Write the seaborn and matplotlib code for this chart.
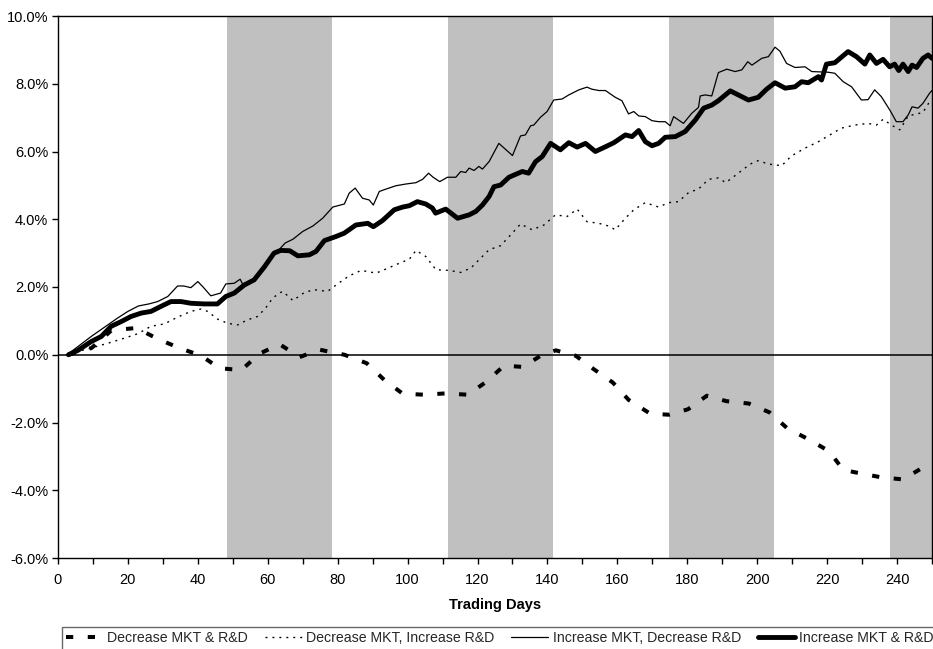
import matplotlib
matplotlib.use("Agg")
import matplotlib.pyplot as plt
import matplotlib.ticker as mticker
import seaborn as sns
import pandas as pd

# ---------------- data (cumulative returns, %) ----------------
series_names = [
    "Decrease MKT & R&D",
    "Decrease MKT, Increase R&D",
    "Increase MKT, Decrease R&D",
    "Increase MKT & R&D",
]

dec_both_days = [3, 9.6, 15.3, 22.4, 28.7, 34.7, 41, 46.2, 52.5, 57.6, 63.4, 69.1, 74.8, 81.9,
                 88.3, 93.3, 98.6, 104.9, 110.9, 117.2, 122.5, 127.6, 133, 138.2, 142.4, 148.1,
                 153.3, 158.7, 163.2, 169.4, 174.8, 180.2, 185.6, 191.2, 197.6, 203.5, 208.7,
                 214.6, 220.6, 224.6, 230.9, 235.6, 241.7, 247.7, 250]
dec_both_vals = [0.0, 0.2, 0.72, 0.79, 0.46, 0.2, -0.03, -0.4, -0.45, 0.03, 0.31, -0.07, 0.15, 0.0,
                 -0.25, -0.74, -1.15, -1.18, -1.14, -1.18, -0.8, -0.32, -0.36, -0.02, 0.13, -0.03,
                 -0.43, -0.82, -1.33, -1.74, -1.77, -1.61, -1.21, -1.37, -1.44, -1.7, -2.18,
                 -2.49, -2.85, -3.4, -3.53, -3.62, -3.68, -3.31, -3.15]

dec_mkt_inc_rd_days = [3, 9.5, 14.3, 19, 22.8, 26.6, 30.4, 34.2, 38, 40.9, 42.8, 45.7, 48.5, 51.4,
                       54.2, 57.1, 59.4, 61.4, 63.3, 64.3, 67.2, 70.5, 73.3, 77.1, 80.5, 83.3,
                       86.7, 91, 93.8, 97.6, 100.5, 102.4, 105.2, 108.1, 111.9, 115.2, 118.1,
                       120.4, 123.3, 126.6, 129.5, 132.3, 135.6, 139, 142.3, 145.6, 148.5, 151.3,
                       154.7, 157.5, 159.4, 162.3, 164.7, 168, 171.8, 174.7, 177.5, 180.4, 183.2,
                       186.1, 188.9, 191, 194.6, 198, 200.3, 203.2, 207, 209.8, 213.7, 217.5,
                       220.8, 224.1, 227.9, 231.7, 234.1, 236, 238.4, 240.8, 243.2, 245.6, 247.4,
                       249.3, 250]
dec_mkt_inc_rd_vals = [0.03, 0.2, 0.34, 0.49, 0.62, 0.84, 0.91, 1.11, 1.28, 1.35, 1.28, 1.05, 0.93,
                       0.88, 1.03, 1.13, 1.38, 1.67, 1.82, 1.87, 1.6, 1.84, 1.92, 1.87, 2.13, 2.33,
                       2.49, 2.41, 2.53, 2.7, 2.82, 3.08, 2.9, 2.51, 2.49, 2.43, 2.56, 2.8, 3.1,
                       3.22, 3.54, 3.86, 3.69, 3.83, 4.13, 4.08, 4.3, 3.93, 3.88, 3.8, 3.69, 4.03,
                       4.28, 4.49, 4.36, 4.49, 4.52, 4.79, 4.89, 5.18, 5.22, 5.08, 5.36, 5.63,
                       5.73, 5.63, 5.58, 5.87, 6.1, 6.29, 6.49, 6.69, 6.78, 6.83, 6.78, 6.95,
                       6.78, 6.64, 7.05, 7.11, 7.15, 7.47, 7.55]

inc_mkt_dec_rd_days = [3, 9.5, 17, 20, 23, 26, 28.5, 31.4, 34.2, 36, 38, 40, 41.5, 43.7, 46.5, 48,
                       50.4, 52.1, 53, 56, 59, 62, 63.4, 65, 67.2, 70, 72.9, 75.7, 78.6, 81.9,
                       83.3, 85, 87.1, 89, 90.2, 91.9, 93.8, 96.7, 99.5, 102.4, 104.3, 106, 107.3,
                       109.2, 111.4, 113.8, 115.2, 116.6, 117.6, 119, 120.4, 121.4, 123.3, 126.1,
                       130, 132.3, 133.7, 135.2, 136.1, 138, 139.9, 141.8, 144.2, 146.1, 149,
                       151.3, 152.7, 154.7, 156.6, 159.4, 161.3, 163.2, 164.7, 166.1, 168, 169.9,
                       171.8, 173.7, 175.1, 176.1, 178.9, 181.3, 183.2, 183.7, 185.1, 187, 188.9,
                       191.3, 193.7, 195.6, 197.3, 198.5, 201.3, 203.2, 205.1, 206.5, 208.4,
                       210.8, 213.7, 215.6, 220.3, 222.2, 224.6, 227, 229.8, 231.7, 233.6, 235.5,
                       237.9, 239.8, 241.7, 243.2, 244.3, 246, 247.4, 249.3, 250]
inc_mkt_dec_rd_vals = [0.03, 0.54, 1.08, 1.28, 1.44, 1.5, 1.57, 1.72, 2.03, 2.03, 1.98, 2.16, 2.0,
                       1.74, 1.82, 2.09, 2.11, 2.23, 2.05, 2.2, 2.6, 3.05, 3.12, 3.3, 3.41, 3.64,
                       3.8, 4.03, 4.36, 4.45, 4.77, 4.92, 4.62, 4.57, 4.42, 4.82, 4.89, 4.99,
                       5.04, 5.08, 5.18, 5.36, 5.24, 5.11, 5.24, 5.24, 5.41, 5.38, 5.51, 5.44,
                       5.56, 5.48, 5.7, 6.24, 5.88, 6.46, 6.49, 6.76, 6.78, 7.01, 7.18, 7.52,
                       7.55, 7.67, 7.82, 7.9, 7.84, 7.8, 7.8, 7.6, 7.5, 7.11, 7.18, 7.05, 7.03,
                       6.91, 6.88, 6.88, 6.76, 7.03, 6.83, 7.13, 7.3, 7.64, 7.67, 7.64, 8.33,
                       8.43, 8.36, 8.41, 8.65, 8.55, 8.75, 8.8, 9.08, 8.96, 8.6, 8.48, 8.5, 8.36,
                       8.34, 8.31, 8.06, 7.91, 7.52, 7.53, 7.82, 7.62, 7.23, 6.88, 6.88, 7.08,
                       7.32, 7.28, 7.42, 7.72, 7.8]

inc_both_days = [3, 5.7, 9.5, 12.4, 15.2, 18.1, 20.9, 23.8, 26.6, 29.5, 32.3, 35.2, 38, 41.8, 45.6,
                 48, 50.4, 53.3, 56.1, 59, 61.8, 63.7, 66.3, 68.6, 71.9, 73.8, 76.2, 79.5, 81.9,
                 85.2, 88.6, 90.2, 92.8, 96.2, 98.6, 100.5, 102.8, 105.2, 107.1, 108, 110.9,
                 114.3, 117.6, 119.5, 121.4, 123.3, 124.7, 126.6, 129, 132.8, 134.6, 136.6,
                 138.5, 140.9, 143.7, 146.1, 148.5, 150.9, 153.7, 156.6, 159, 162.3, 164.2,
                 166.1, 168, 169.9, 171.8, 173.7, 176.6, 179.4, 182.3, 184.7, 187, 188.9, 192.3,
                 194.6, 197.5, 200.3, 202.7, 205.1, 208, 210.8, 212.7, 214.6, 217.5, 218.4,
                 219.8, 222.2, 226, 228.4, 230.8, 232.2, 234.1, 236, 237.9, 239.3, 240.5, 241.7,
                 243.2, 244.3, 245.6, 247.4, 248.9, 250]
inc_both_vals = [0.0, 0.13, 0.39, 0.54, 0.84, 0.98, 1.13, 1.23, 1.28, 1.43, 1.57, 1.57, 1.52, 1.5,
                 1.5, 1.72, 1.82, 2.06, 2.21, 2.59, 3.0, 3.08, 3.07, 2.92, 2.95, 3.05, 3.37, 3.49,
                 3.59, 3.83, 3.88, 3.78, 3.96, 4.28, 4.36, 4.4, 4.52, 4.45, 4.33, 4.18, 4.3,
                 4.03, 4.13, 4.23, 4.42, 4.67, 4.96, 5.01, 5.24, 5.41, 5.36, 5.7, 5.85, 6.24,
                 6.05, 6.26, 6.13, 6.24, 6.0, 6.14, 6.26, 6.49, 6.44, 6.62, 6.29, 6.17, 6.24,
                 6.42, 6.44, 6.59, 6.93, 7.28, 7.37, 7.5, 7.79, 7.67, 7.52, 7.6, 7.84, 8.03,
                 7.87, 7.91, 8.06, 8.03, 8.21, 8.11, 8.58, 8.62, 8.95, 8.8, 8.58, 8.85, 8.6,
                 8.72, 8.5, 8.58, 8.39, 8.58, 8.36, 8.55, 8.48, 8.75, 8.85, 8.75]

band_starts = [48.2, 111.6, 174.8, 238.1]
band_ends = [78.4, 141.6, 204.8, 250]

x_ticks = list(range(0, 241, 20))
y_ticks = list(range(-6, 11, 2))

# ---------------- styling ----------------
sns.set_theme(style="white")
plt.rcParams["font.family"] = ["Liberation Sans", "DejaVu Sans"]
plt.rcParams["axes.unicode_minus"] = False

fig = plt.figure(figsize=(9.33, 6.49), dpi=100)
ax = fig.add_axes([58 / 933, (649 - 558) / 649, (932 - 58) / 933, (558 - 16) / 649])

for s, e in zip(band_starts, band_ends):
    ax.axvspan(s, e, color="#C0C0C0", lw=0, zorder=0)

ax.axhline(0, color="black", lw=1.1, zorder=1)

styles = {
    series_names[0]: dict(linewidth=2.9, linestyle=(0, (1.8, 3.6))),
    series_names[1]: dict(linewidth=1.0, linestyle=(0, (1.4, 3.6))),
    series_names[2]: dict(linewidth=0.9, linestyle="-"),
    series_names[3]: dict(linewidth=3.5, linestyle="-"),
}
data = {
    series_names[0]: (dec_both_days, dec_both_vals),
    series_names[1]: (dec_mkt_inc_rd_days, dec_mkt_inc_rd_vals),
    series_names[2]: (inc_mkt_dec_rd_days, inc_mkt_dec_rd_vals),
    series_names[3]: (inc_both_days, inc_both_vals),
}

handles = []
for name in series_names:
    d, v = data[name]
    df = pd.DataFrame({"day": d, "ret": v})
    sns.lineplot(data=df, x="day", y="ret", ax=ax, color="black", estimator=None,
                 sort=False, legend=False, zorder=3, **styles[name])
    line = ax.lines[-1]
    line.set_label(name)
    handles.append(line)

ax.set_xlim(0, 250)
ax.set_ylim(-6, 10)
ax.set_xticks(x_ticks)
ax.xaxis.set_minor_locator(mticker.MultipleLocator(10))
ax.set_yticks(y_ticks)
ax.yaxis.set_major_formatter(mticker.PercentFormatter(xmax=100, decimals=1))

ax.tick_params(axis="both", which="both", direction="out", length=4, width=1,
               color="black", labelsize=10.5, labelcolor="black", pad=3)
ax.tick_params(axis="x", which="minor", bottom=True, length=4)
ax.tick_params(axis="x", which="major", bottom=True, pad=7)
ax.tick_params(axis="y", which="major", left=True)

for sp in ax.spines.values():
    sp.set_color("black")
    sp.set_linewidth(1.0)
    sp.set_visible(True)

ax.set_xlabel("Trading Days", fontsize=10.5, fontweight="bold", labelpad=8, color="black")
ax.set_ylabel("")
ax.grid(False)

leg = fig.legend(handles=handles, labels=series_names, loc="upper left",
                 bbox_to_anchor=(62 / 933, 1 - 627 / 649, 1 - 62 / 933 + 0.005, 0.0),
                 mode="expand", ncol=4, fontsize=10.2, frameon=True, fancybox=False,
                 edgecolor="#444444", handlelength=2.6, handletextpad=0.3,
                 columnspacing=0.3, borderpad=0.3, borderaxespad=0.0)
leg.get_frame().set_linewidth(1.0)

fig.savefig("out.png", dpi=100)
